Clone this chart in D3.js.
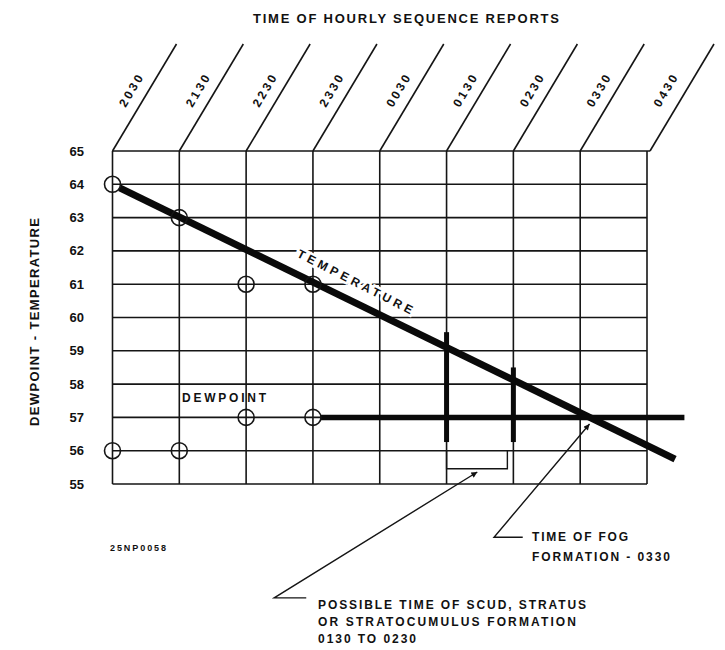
<!DOCTYPE html>
<html><head><meta charset="utf-8">
<script src="https://cdn.jsdelivr.net/npm/d3@7/dist/d3.min.js"></script>
<style>
html,body{margin:0;padding:0;background:#fff;}
text{font-family:"Liberation Sans",Arial,sans-serif;font-weight:bold;fill:#111;}
</style></head>
<body>
<script>
// ---- data ----
const times = ["2030","2130","2230","2330","0030","0130","0230","0330","0430"];
const tempTicks = [55,56,57,58,59,60,61,62,63,64,65];
const temperatureObs = [64,63,61,61];       // hourly reports 2030..2330
const dewpointObs = [56,56,57,57];          // hourly reports 2030..2330
const temperatureTrendHours = [0, 8.42];
const temperatureTrendValues = [64, 55.75];
const dewpointTrendHours = [3, 8.56];
const dewpointTrendValues = [57, 57];
const scudHours = [5, 6];
const scudTops = [59.56, 58.5];
const scudBottoms = [56.26, 56.26];
const fogHour = 7.14;

const W = 725, H = 650;
const svg = d3.select("body").append("svg").attr("width", W).attr("height", H);
const x = d3.scaleLinear().domain([0, 8]).range([112.5, 647]);
const y = d3.scaleLinear().domain([55, 65]).range([484, 151]);

const defs = svg.append("defs");
defs.append("marker").attr("id","ah").attr("viewBox","0 0 10 10")
  .attr("refX",10).attr("refY",5).attr("markerWidth",9).attr("markerHeight",6)
  .attr("markerUnits","userSpaceOnUse").attr("orient","auto")
  .append("path").attr("d","M0,0L10,5L0,10z").attr("fill","#111");

const ink = "#151515";
const grid = svg.append("g").attr("stroke", ink).attr("stroke-width", 1.6).attr("fill","none");

// horizontal grid lines
grid.selectAll("line.h").data(tempTicks).join("line")
  .attr("x1", x(0)).attr("x2", d => d === 65 ? x(8) + 3 : x(8))
  .attr("y1", d => y(d)).attr("y2", d => y(d));
// vertical grid lines
grid.selectAll("line.v").data(times).join("line")
  .attr("x1", (d,i) => x(i)).attr("x2", (d,i) => x(i))
  .attr("y1", y(65)).attr("y2", y(55));
// slanted time lines
const sdx = 64, sdy = -107;
const slen = Math.hypot(sdx, sdy), ux = sdx/slen, uy = sdy/slen;
grid.selectAll("line.s").data(times).join("line")
  .attr("x1", (d,i) => x(i) + (i === 8 ? 3 : 0)).attr("y1", y(65))
  .attr("x2", (d,i) => x(i) + (i === 8 ? 3 : 0) + sdx).attr("y2", y(65) + sdy);

// time labels
const ang = Math.atan2(sdy, sdx) * 180 / Math.PI;
svg.selectAll("text.t").data(times).join("text")
  .attr("font-size", 12)
  .attr("text-anchor","middle").attr("dominant-baseline","central")
  .attr("textLength", 35).attr("lengthAdjust","spacing")
  .attr("transform", (d,i) => {
    const bx = x(i) + 61*ux - 15*(-uy) , by = y(65) + 61*uy - 15*(ux);
    return `translate(${bx},${by}) rotate(${ang})`;
  })
  .text(d => d);

// title
svg.append("text").attr("x", 406).attr("y", 18).attr("font-size", 13)
  .attr("text-anchor","middle").attr("dominant-baseline","central")
  .attr("textLength", 306).attr("lengthAdjust","spacing")
  .text("TIME OF HOURLY SEQUENCE REPORTS");

// y tick labels
svg.selectAll("text.y").data(tempTicks).join("text")
  .attr("x", 84).attr("y", d => y(d)).attr("font-size", 13)
  .attr("text-anchor","end").attr("dominant-baseline","central")
  .text(d => d);

// y axis title
svg.append("text").attr("transform", `translate(34,322) rotate(-90)`)
  .attr("font-size", 13).attr("text-anchor","middle").attr("dominant-baseline","central")
  .attr("textLength", 208).attr("lengthAdjust","spacing")
  .text("DEWPOINT - TEMPERATURE");

// temperature trend line
const r = 8;
const tx0 = x(temperatureTrendHours[0]), ty0 = y(temperatureTrendValues[0]);
const tx1 = x(temperatureTrendHours[1]), ty1 = y(temperatureTrendValues[1]);
const tl = Math.hypot(tx1-tx0, ty1-ty0);
svg.append("line")
  .attr("x1", tx0 + (tx1-tx0)/tl*r).attr("y1", ty0 + (ty1-ty0)/tl*r)
  .attr("x2", tx1).attr("y2", ty1)
  .attr("stroke", "#0a0a0a").attr("stroke-width", 7);

// dewpoint trend line
svg.append("line")
  .attr("x1", x(dewpointTrendHours[0]) + r).attr("y1", y(dewpointTrendValues[0]))
  .attr("x2", x(dewpointTrendHours[1])).attr("y2", y(dewpointTrendValues[1]))
  .attr("stroke", "#0a0a0a").attr("stroke-width", 5.5);

// scud bars
svg.selectAll("line.bar").data(scudHours).join("line")
  .attr("x1", d => x(d)).attr("x2", d => x(d))
  .attr("y1", (d,i) => y(scudTops[i])).attr("y2", (d,i) => y(scudBottoms[i]))
  .attr("stroke", "#0a0a0a").attr("stroke-width", 5);

// observation circles
const circ = svg.append("g").attr("fill","none").attr("stroke", ink).attr("stroke-width", 1.6);
circ.selectAll("circle.tc").data(temperatureObs).join("circle")
  .attr("cx", (d,i) => x(i)).attr("cy", d => y(d)).attr("r", r);
circ.selectAll("circle.dc").data(dewpointObs).join("circle")
  .attr("cx", (d,i) => x(i)).attr("cy", d => y(d)).attr("r", r);

// labels on lines
svg.append("text").attr("transform", `translate(${x(3.63)},${y(61.07)}) rotate(27)`)
  .attr("font-size", 12).attr("text-anchor","middle").attr("dominant-baseline","central")
  .attr("textLength", 128).attr("lengthAdjust","spacing")
  .attr("stroke","#fff").attr("stroke-width",5).attr("paint-order","stroke")
  .text("TEMPERATURE");
svg.append("text").attr("x", 182).attr("y", 398).attr("font-size", 12)
  .attr("dominant-baseline","central")
  .attr("textLength", 84).attr("lengthAdjust","spacing")
  .text("DEWPOINT");

// bracket for scud period
const bY = y(55.46);
svg.append("path")
  .attr("d", `M${x(scudHours[0])},${y(56)}V${bY}H${x(scudHours[1])-6}V${y(56)}`)
  .attr("fill","none").attr("stroke", ink).attr("stroke-width", 1.4);

// annotation arrows
const ann = svg.append("g").attr("fill","none").attr("stroke", ink).attr("stroke-width", 1.4);
const scudMid = (scudHours[0] + scudHours[1]) / 2 - 0.04;
ann.append("path")
  .attr("d", `M${x(2.90)},${y(51.58)}H${x(2.42)}L${x(scudMid)},${y(55.36)}`)
  .attr("marker-end","url(#ah)");
ann.append("path")
  .attr("d", `M${x(6.14)},${y(53.40)}H${x(5.71)}L${x(fogHour)},${y(56.8)}`)
  .attr("marker-end","url(#ah)");

// annotation texts
const note = (tx, ty, s, len, fs) => svg.append("text").attr("x", tx).attr("y", ty)
  .attr("font-size", fs).attr("dominant-baseline","central")
  .attr("textLength", len).attr("lengthAdjust","spacing").text(s);
note(532, 537, "TIME OF FOG", 96, 12);
note(532, 557, "FORMATION - 0330", 138, 12);
note(318, 605, "POSSIBLE TIME OF SCUD, STRATUS", 268, 12);
note(318, 622, "OR STRATOCUMULUS FORMATION", 258, 12);
note(318, 639, "0130 TO 0230", 98, 12);
note(110, 548, "25NP0058", 56, 9);
</script>
</body></html>
